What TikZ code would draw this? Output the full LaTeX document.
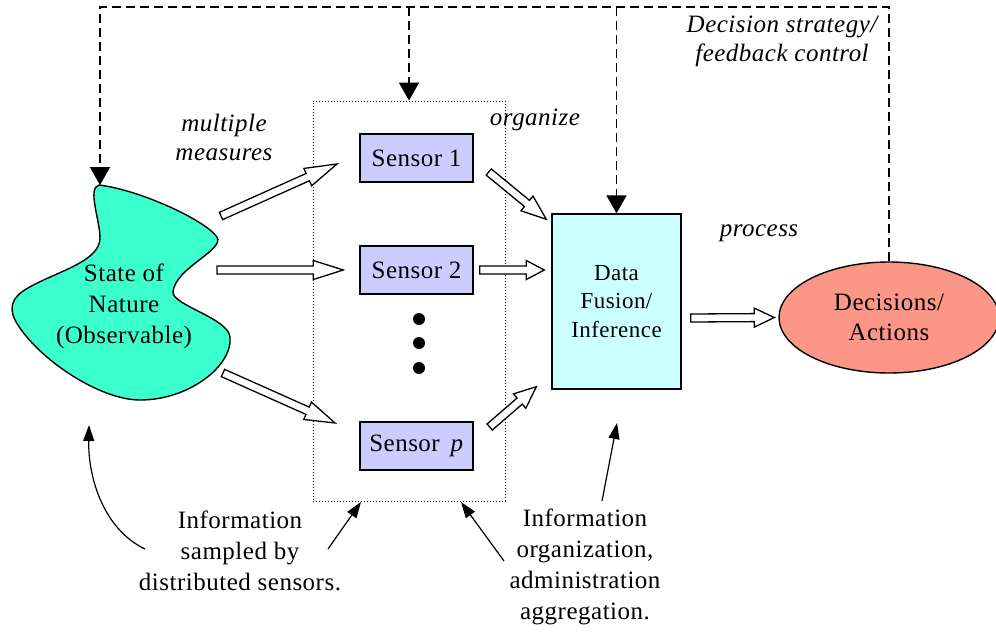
\documentclass[tikz,border=0pt]{standalone}
\usepackage{fontspec}
\setmainfont{Liberation Serif}[LetterSpace=2]
\usetikzlibrary{calc,shapes.geometric,arrows.meta}
\definecolor{blobc}{RGB}{59,255,204}
\definecolor{sensc}{RGB}{204,204,255}
\definecolor{fusc}{RGB}{204,255,255}
\definecolor{decc}{RGB}{252,150,135}
\newcommand\blockarrow[3][18]{%
  \coordinate (bah) at ($(#3)!#1pt!(#2)$);
  \draw[blk] ($(#2)!4pt!90:(#3)$) -- ($(bah)!4pt!90:(#3)$) -- ($(bah)!9.5pt!90:(#3)$) -- (#3)
    -- ($(bah)!9.5pt!-90:(#3)$) -- ($(bah)!4pt!-90:(#3)$) -- ($(#2)!4pt!-90:(#3)$) -- cycle;}
\begin{document}
\begin{tikzpicture}[x=1pt,y=-1pt,
  font=\fontsize{25}{31}\selectfont,
  sensorbox/.style={draw, line width=1.4pt, fill=sensc, minimum width=113pt, minimum height=48pt, inner sep=0pt},
  fusionbox/.style={draw, line width=1.4pt, fill=fusc, minimum width=129pt, minimum height=175pt, align=center, font=\fontsize{23}{28.5}\selectfont},
  decnode/.style={ellipse, draw, line width=1.4pt, fill=decc, minimum width=220pt, minimum height=111pt, inner sep=0pt, align=center, font=\fontsize{25}{30}\selectfont},
  fb/.style={line width=1.8pt, dash pattern=on 9pt off 5pt, -{Triangle[length=18pt,width=20pt]}},
  lab/.style={align=center, font=\fontsize{25}{29}\selectfont\itshape},
  txt/.style={align=center, font=\fontsize{25}{31}\selectfont},
  ptr/.style={line width=1.2pt, -{Triangle[length=16pt,width=11pt]}},
  blk/.style={draw, line width=1.3pt, fill=white, line join=miter}]
\useasboundingbox (0,0) rectangle (996,632);

% state of nature blob
\draw[line width=1.4pt, fill=blobc]
  (99,185) .. controls (140,190) and (205,220) .. (217,237)
  .. controls (225,250) and (175,268) .. (173,292)
  .. controls (172,305) and (228,318) .. (230,337)
  .. controls (233,365) and (190,400) .. (140,400)
  .. controls (100,400) and (40,360) .. (18,325)
  .. controls (8,310) and (10,298) .. (28,288)
  .. controls (55,272) and (100,262) .. (100,238)
  .. controls (100,220) and (87,188) .. (99,185) -- cycle;
\coordinate (blobtop) at (99,185);
\node[align=center] (nat) at (124,306) {State of\\Nature\\(Observable)};

% sensor group
\node[draw, dotted, line width=1pt, minimum width=192pt, minimum height=400pt] (grp) at (409,301) {};
\node[sensorbox] (s1) at (416.5,158) {Sensor 1};
\node[sensorbox] (s2) at (416.5,270) {Sensor 2};
\node[sensorbox] (sp) at (416.5,446) {Sensor \,\textit{p}};
\fill (419,319) circle (6pt) (419,343) circle (6pt) (419,368) circle (6pt);

\node[fusionbox] (fus) at (616.5,301.5) {Data\\Fusion/\\Inference};
\node[decnode] (dec) at (889,317.5) {Decisions/\\Actions};

% block arrows
\coordinate (a1t) at (221,216); \coordinate (a1h) at (337,164);
\coordinate (a2t) at (217,270); \coordinate (a2h) at ($(s2.west)+(-16,0)$);
\coordinate (a3t) at (223,373); \coordinate (a3h) at (335,423);
\coordinate (a4t) at ($(s1.east)+(15,14)$); \coordinate (a4h) at ($(fus.north west)+(-5,6)$);
\coordinate (a5t) at ($(s2.east)+(6,0)$); \coordinate (a5h) at ($(fus.west |- s2)+(-7,0)$);
\coordinate (a6t) at ($(sp.east)+(16,-19)$); \coordinate (a6h) at ($(fus.south west)+(-15,-3)$);
\coordinate (a7t) at ($(fus.east)+(9,16.5)$); \coordinate (a7h) at ($(dec.west)+(-4,0)$);
\blockarrow[32]{a1t}{a1h}
\blockarrow[30]{a2t}{a2h}
\blockarrow[30]{a3t}{a3h}
\blockarrow[25]{a4t}{a4h}
\blockarrow[18]{a5t}{a5h}
\blockarrow[22]{a6t}{a6h}
\blockarrow[20]{a7t}{a7h}

% feedback dashed lines
\coordinate (tl) at (100,7);
\coordinate (tr) at (dec.north |- tl);
\draw[fb] (dec.north) -- (tr) -- (tl) -- (blobtop -| tl);
\draw[fb] (grp.north |- tl) -- (grp.north);
\draw[fb] (fus.north |- tl) -- (fus.north);

% labels
\node[lab] (mm) at (224,137) {multiple\\measures};
\node[lab] (org) at (535,120) {organize};
\node[lab] (dsf) at (782,41.5) {Decision strategy/\\feedback control};
\node[lab] (proc) at (759,233) {process};
\node[txt] (info1) at (240,551) {Information\\sampled by\\distributed sensors.};
\node[txt] (info2) at (585,566.5) {Information\\organization,\\administration\\aggregation.};

% pointer arrows
\coordinate (p1s) at (145,549); \coordinate (p1e) at (89,425);
\draw[ptr] (p1s) .. controls (105,530) and (88,480) .. (p1e);
\coordinate (p2s) at (328,549); \coordinate (p2e) at (361,502);
\draw[ptr] (p2s) -- (p2e);
\coordinate (p3s) at (504,561); \coordinate (p3e) at (461,502);
\draw[ptr] (p3s) -- (p3e);
\coordinate (p4s) at (602,501); \coordinate (p4e) at (617,423);
\draw[ptr] (p4s) -- (p4e);
\end{tikzpicture}
\end{document}
